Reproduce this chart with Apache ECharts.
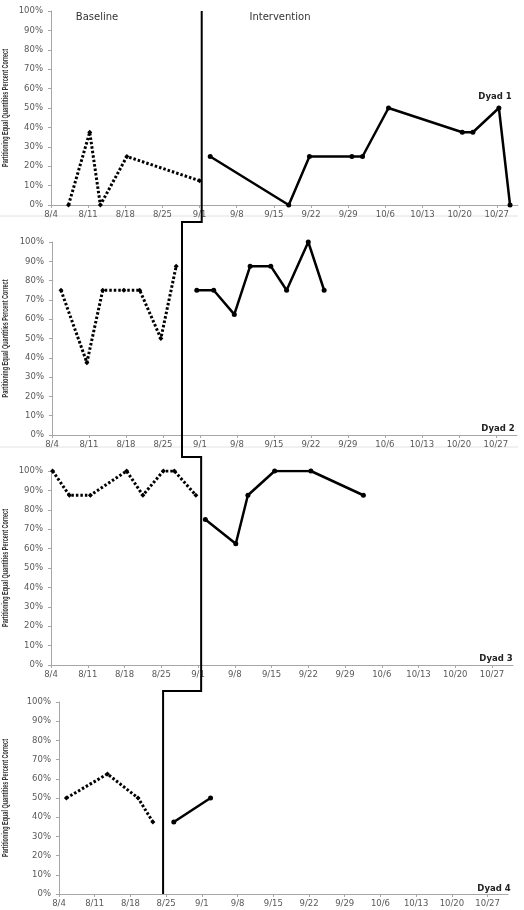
<!DOCTYPE html>
<html>
<head>
<meta charset="utf-8">
<script src="https://cdn.jsdelivr.net/npm/echarts@6/dist/echarts.min.js"></script>
<style>
  html, body { margin: 0; padding: 0; background: #fff; }
  #chart { width: 524px; height: 910px; }
</style>
</head>
<body>
<div id="chart"></div>
<script>
// x tick labels, one per week starting 8/4
const xTickLabels = ['8/4', '8/11', '8/18', '8/25', '9/1', '9/8', '9/15', '9/22', '9/29', '10/6', '10/13', '10/20', '10/27'];
const dyadNames = ['Dyad 1', 'Dyad 2', 'Dyad 3', 'Dyad 4'];

// session positions are days after 8/4, values are percent correct
const dyad1BaseDays = [3.3, 7.3, 9.3, 14.3, 28];
const dyad1BaseVals = [0, 37.5, 0, 25, 12.5];
const dyad1IntDays = [30, 44.8, 48.7, 56.7, 58.7, 63.6, 77.5, 79.5, 84.4, 86.5];
const dyad1IntVals = [25, 0, 25, 25, 25, 50, 37.5, 37.5, 50, 0];

const dyad2BaseDays = [1.7, 6.6, 9.6, 13.6, 16.6, 20.6, 23.5];
const dyad2BaseVals = [75, 37.5, 75, 75, 75, 50, 87.5];
const dyad2IntDays = [27.4, 30.6, 34.5, 37.5, 41.4, 44.4, 48.5, 51.5];
const dyad2IntVals = [75, 75, 62.5, 87.5, 87.5, 75, 100, 75];

const dyad3BaseDays = [0.3, 3.5, 7.5, 14.4, 17.5, 21.4, 23.5, 27.6];
const dyad3BaseVals = [100, 87.5, 87.5, 100, 87.5, 100, 100, 87.5];
const dyad3IntDays = [29.4, 35.2, 37.5, 42.6, 49.5, 59.5];
const dyad3IntVals = [75, 62.5, 87.5, 100, 100, 87.5];

const dyad4BaseDays = [1.45, 9.5, 15.5, 18.4];
const dyad4BaseVals = [50, 62.5, 50, 37.5];
const dyad4IntDays = [22.5, 29.7];
const dyad4IntVals = [37.5, 50];

// where the phase change line crosses each panel (days after 8/4)
const phaseChangeDays = [28.4, 24.6, 28.6, 20.4];

const baseline = [[dyad1BaseDays, dyad1BaseVals], [dyad2BaseDays, dyad2BaseVals], [dyad3BaseDays, dyad3BaseVals], [dyad4BaseDays, dyad4BaseVals]];
const intervention = [[dyad1IntDays, dyad1IntVals], [dyad2IntDays, dyad2IntVals], [dyad3IntDays, dyad3IntVals], [dyad4IntDays, dyad4IntVals]];

// layout
const grids = [
  {left: 51, top: 11, width: 467, height: 194},
  {left: 52, top: 242, width: 465, height: 193},
  {left: 51, top: 471, width: 462, height: 194},
  {left: 59, top: 702, width: 449, height: 192}
];
const stepDrop = [17, 22, 26];
const labelFont = 'DejaVu Sans';

function zip(xs, ys) { return xs.map((x, i) => [x, ys[i]]); }

const xAxes = grids.map((g, i) => ({
  type: 'value', gridIndex: i, min: 0, max: 88, interval: 7,
  axisLine: {lineStyle: {color: '#a6a6a6', width: 1}},
  axisTick: {show: true, length: 3, lineStyle: {color: '#a6a6a6'}},
  splitLine: {show: false},
  axisLabel: {
    fontFamily: labelFont, fontSize: 8.5, color: '#595959', margin: 5,
    showMaxLabel: false,
    formatter: v => (v % 7 === 0 ? (xTickLabels[v / 7] || '') : '')
  }
}));
const yAxes = grids.map((g, i) => ({
  type: 'value', gridIndex: i, min: 0, max: 100, interval: 10,
  axisLine: {show: true, lineStyle: {color: '#a6a6a6', width: 1}},
  axisTick: {show: true, length: 3, lineStyle: {color: '#a6a6a6'}},
  splitLine: {show: false},
  axisLabel: {fontFamily: labelFont, fontSize: 8.5, color: '#595959', margin: 8, formatter: '{value}%'}
}));

const series = [];
baseline.forEach((d, i) => {
  series.push({
    type: 'line', xAxisIndex: i, yAxisIndex: i, data: zip(d[0], d[1]),
    symbol: 'diamond', symbolSize: 5, itemStyle: {color: '#000'},
    lineStyle: {color: '#000', width: 3, type: [2.5, 2]}, animation: false
  });
});
intervention.forEach((d, i) => {
  series.push({
    type: 'line', xAxisIndex: i, yAxisIndex: i, data: zip(d[0], d[1]),
    symbol: 'circle', symbolSize: 5, itemStyle: {color: '#000'},
    lineStyle: {color: '#000', width: 2.5}, animation: false
  });
});

const chart = echarts.init(document.getElementById('chart'));
chart.setOption({
  backgroundColor: '#fff',
  animation: false,
  grid: grids,
  xAxis: xAxes,
  yAxis: yAxes,
  series: series
});

// phase change line, stepped between panels
const px = [], py0 = [], py100 = [];
phaseChangeDays.forEach((d, i) => {
  const a = chart.convertToPixel({gridIndex: i}, [d, 100]);
  const b = chart.convertToPixel({gridIndex: i}, [d, 0]);
  px.push(a[0]); py100.push(a[1]); py0.push(b[1]);
});
const pts = [[px[0], py100[0]]];
for (let i = 0; i < 3; i++) {
  const yStep = py0[i] + stepDrop[i];
  pts.push([px[i], yStep]);
  pts.push([px[i + 1], yStep]);
}
pts.push([px[3], py0[3]]);

// y axis title, squeezed to the narrow look of the original
const yTitle = 'Partitioning Equal Quantities Percent Correct';
const yTitleFont = 'bold 9px "Liberation Sans Narrow", "Liberation Sans", sans-serif';
const ctx = document.createElement('canvas').getContext('2d');
ctx.font = yTitleFont;
const yTitleScale = 118 / ctx.measureText(yTitle).width;

const graphics = [];
graphics.push({
  type: 'polyline', shape: {points: pts}, z: 100,
  style: {stroke: '#000', lineWidth: 2, fill: null}
});
[216, 447].forEach(y => {
  graphics.push({type: 'line', shape: {x1: 0, y1: y, x2: 518, y2: y}, style: {stroke: '#e2e2e2', lineWidth: 1}});
});
grids.forEach((g, i) => {
  graphics.push({
    type: 'text', x: 6, y: g.top + g.height / 2, rotation: Math.PI / 2, scaleX: yTitleScale,
    style: {text: yTitle, font: yTitleFont, fill: '#333', align: 'center', verticalAlign: 'middle'}
  });
});
const dyadPos = [[495, 97], [498, 429], [496, 659], [494, 889]];
dyadNames.forEach((n, i) => {
  graphics.push({
    type: 'text', x: dyadPos[i][0], y: dyadPos[i][1],
    style: {text: n, font: 'bold 8.5px "DejaVu Sans"', fill: '#222', align: 'center', verticalAlign: 'middle'}
  });
});
graphics.push({type: 'text', x: 97, y: 17, style: {text: 'Baseline', font: '10px "DejaVu Sans"', fill: '#333', align: 'center', verticalAlign: 'middle'}});
graphics.push({type: 'text', x: 280, y: 17, style: {text: 'Intervention', font: '10px "DejaVu Sans"', fill: '#333', align: 'center', verticalAlign: 'middle'}});

chart.setOption({graphic: {elements: graphics}});
</script>
</body>
</html>
